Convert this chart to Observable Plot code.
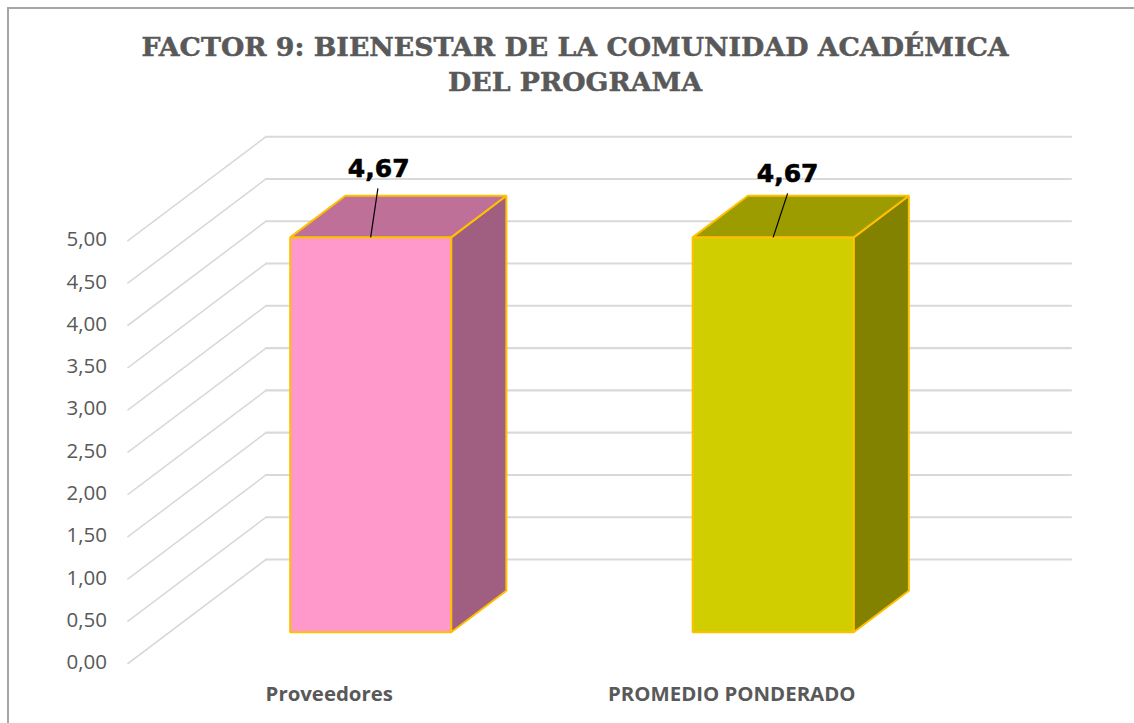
<!DOCTYPE html>
<html><head><meta charset="utf-8">
<script src="https://cdn.jsdelivr.net/npm/d3@7"></script>
<script src="https://cdn.jsdelivr.net/npm/@observablehq/plot@0.6"></script>
<style>
html,body{margin:0;padding:0;background:#fff;overflow:hidden}
#frame{position:absolute;left:7px;top:7px;width:1200px;height:800px;border:2px solid #a6a6a6;box-sizing:border-box;pointer-events:none}
#title{position:absolute;left:0;top:29px;width:1150px;text-align:center;font:bold 26.8px/35px "DejaVu Serif";color:#595959;-webkit-text-stroke:.5px #595959}
#chart{position:absolute;left:0;top:110px}
#chart svg{background:none;overflow:visible}
</style></head><body>
<div id="frame"></div>
<div id="title">FACTOR 9: BIENESTAR DE LA COMUNIDAD ACADÉMICA<br>DEL PROGRAMA</div>
<div id="chart"></div>
<script>
const categories = ["Proveedores", "PROMEDIO PONDERADO"];
const values = [4.67, 4.67];
const frontColors = ["#FF99CC", "#D0CE00"];
const topColors = ["#BF7099", "#9C9B00"];
const sideColors = ["#A05F80", "#828100"];
const axisTicks = [0, .5, 1, 1.5, 2, 2.5, 3, 3.5, 4, 4.5, 5];

const W = 1134, H = 613;
const left = 127.5, floorY = 553;
const catW = 402.5, unitH = 84.56;
const depthX = 138 / catW, depthY = 104 / unitH;   // oblique projection, in data units
const P = (u, v, d) => ({x: u + d * depthX, y: v + d * depthY});
const barW = 0.4, d0 = 0.3, d1 = 0.7;

const gridMarks = axisTicks.flatMap(v => [
  Plot.line([P(0, v, 0), P(0, v, 1)], {x: "x", y: "y", stroke: "#D9D9D9", strokeWidth: 1.6}),
  Plot.line([P(0, v, 1), P(2, v, 1)], {x: "x", y: "y", stroke: "#D9D9D9", strokeWidth: 2.1})
]);

const face = (pts, fill) => Plot.line(pts, {x: "x", y: "y", curve: "linear-closed", fill,
  stroke: "#FFC000", strokeWidth: 2, strokeLinejoin: "miter"});

const barMarks = categories.flatMap((c, i) => {
  const a = i + .5 - barW / 2, b = i + .5 + barW / 2, v = values[i];
  return [
    face([P(b, 0, d0), P(b, 0, d1), P(b, v, d1), P(b, v, d0)], sideColors[i]),
    face([P(a, v, d0), P(a, v, d1), P(b, v, d1), P(b, v, d0)], topColors[i]),
    face([P(a, 0, d0), P(b, 0, d0), P(b, v, d0), P(a, v, d0)], frontColors[i])
  ];
});

// data labels with their leader lines
const leader = [{dx: 0.018, dy: 0.58, lx: 0.02, ly: 0.71}, {dx: 0.036, dy: 0.52, lx: 0.036, ly: 0.655}];
const labelMarks = categories.flatMap((c, i) => {
  const s = P(i + .5, values[i], d0), o = leader[i];
  return [
    Plot.link([s], {x1: "x", y1: "y", x2: d => d.x + o.dx, y2: d => d.y + o.dy, stroke: "#000", strokeWidth: 1.2}),
    Plot.text([s], {x: d => d.x + o.lx, y: d => d.y + o.ly, text: () => values[i].toFixed(2).replace(".", ","),
      fontSize: 25, fontWeight: "bold", fontFamily: "DejaVu Sans", fill: "#000", stroke: "#000", strokeWidth: 0.6, textAnchor: "middle", lineAnchor: "bottom"})
  ];
});

const chart = Plot.plot({
  width: W, height: H,
  marginLeft: left, marginRight: 0, marginTop: 0, marginBottom: H - floorY,
  x: {domain: [0, (W - left) / catW]},
  y: {domain: [0, floorY / unitH]},
  style: {background: "transparent"},
  marks: [
    ...gridMarks,
    ...barMarks,
    ...labelMarks,
    Plot.axisY({ticks: axisTicks, tickFormat: v => v.toFixed(2).replace(".", ","), tickSize: 0, tickPadding: 21, dy: -1,
      label: null, fontSize: 20.5, fontFamily: "Open Sans", fill: "#595959"}),
    Plot.axisX({ticks: [.5, 1.5], tickFormat: u => categories[Math.floor(u)], tickSize: 0, tickPadding: 23,
      label: null, fontSize: 20.4, fontWeight: "bold", fontFamily: "Open Sans", fill: "#595959"})
  ]
});
document.getElementById("chart").appendChild(chart);
</script></body></html>
